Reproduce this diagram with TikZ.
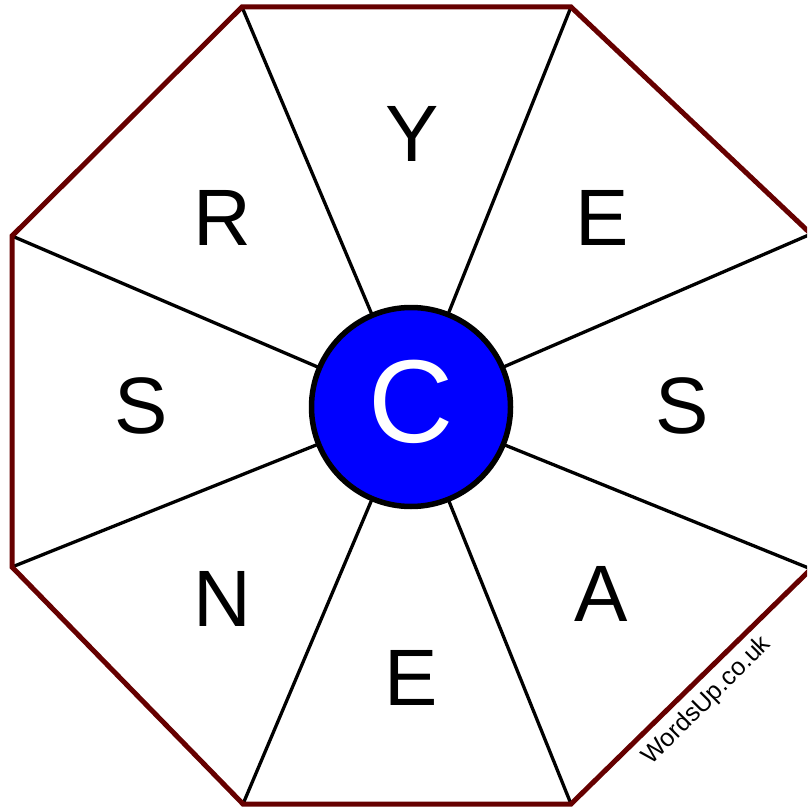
\documentclass[tikz,border=0pt]{standalone}
\usepackage{fontspec}
\setmainfont{Liberation Sans}
\definecolor{rim}{HTML}{660000}
\definecolor{hub}{HTML}{0000FF}
\begin{document}
\begin{tikzpicture}[x=1pt,y=-1pt,
  rimline/.style={draw=rim,line width=5pt,line join=miter},
  spoke/.style={draw=black,line width=3.3pt},
  letter/.style={font=\fontsize{80}{80}\selectfont,inner sep=0pt,anchor=center},
  hubnode/.style={circle,fill=hub,draw=black,line width=5.5pt,minimum size=199pt,inner sep=0pt}]
\useasboundingbox (0,0) rectangle (807,810);
\clip (0,0) rectangle (807,810);
\coordinate (v1) at (242,7);
\coordinate (v2) at (571,7);
\coordinate (v3) at (811,234);
\coordinate (v4) at (811,569);
\coordinate (v5) at (571,804);
\coordinate (v6) at (243,804);
\coordinate (v7) at (12,567);
\coordinate (v8) at (12,236);
\coordinate (ctr) at (411,407);
\foreach \v in {v1,v2,v3,v4,v5,v6,v7,v8} \draw[spoke] (\v) -- (ctr);
\draw[rimline] (v1) -- (v2) -- (v3) -- (v4) -- (v5) -- (v6) -- (v7) -- (v8) -- cycle;
\node[hubnode] (hub) at (ctr) {};
\node[text=white,font=\fontsize{118}{118}\selectfont,inner sep=0pt] (c) at (411,402) {C};
\node[letter] (l1) at (412,134) {Y};
\node[letter] (l2) at (602,218) {E};
\node[letter] (l3) at (682,406) {S};
\node[letter] (l4) at (601,594) {A};
\node[letter] (l5) at (411,678) {E};
\node[letter] (l6) at (222,599) {N};
\node[letter] (l7) at (141,406) {S};
\node[letter] (l8) at (222,218) {R};
\node[font=\fontsize{25}{25}\selectfont,rotate=45,inner sep=0pt] (wm) at (707,701) {WordsUp.co.uk};
\end{tikzpicture}
\end{document}
